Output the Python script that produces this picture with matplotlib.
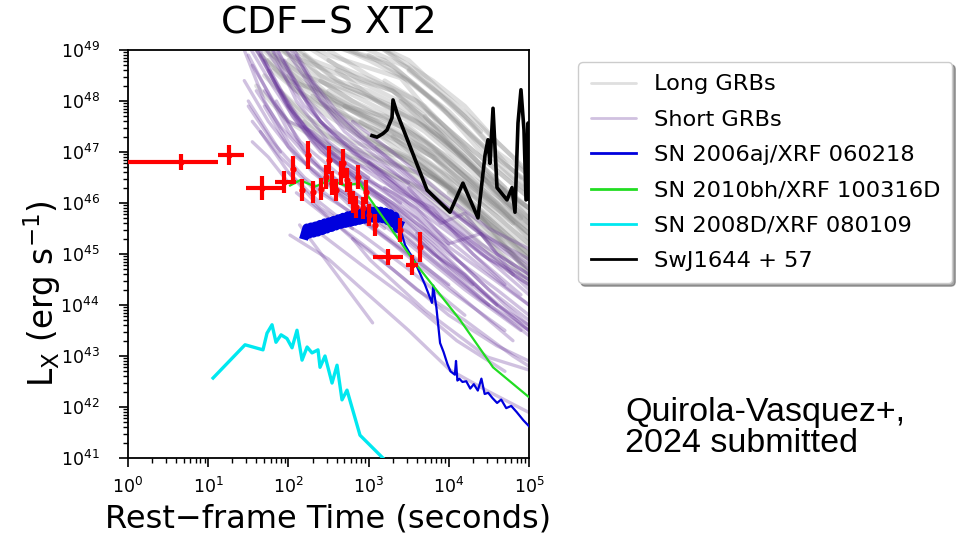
import numpy as np
import matplotlib
matplotlib.use("Agg")
import matplotlib.pyplot as plt

# ---------------- data (log10 time [s], log10 L_X [erg/s]) ----------------
long_grb_curves = [
    [(2.6, 49.3), (3.0, 49.0), (3.5, 48.65), (4.2, 47.7), (4.6, 47.0), (5.0, 46.55)],
    [(2.3, 49.3), (3.0, 48.8), (3.5, 48.4), (4.0, 47.8), (4.5, 47.0), (5.0, 46.4)],
    [(2.0, 49.3), (2.6, 48.7), (3.2, 48.3), (3.8, 47.7), (4.4, 46.9), (5.0, 46.1)],
    [(1.9, 49.2), (2.4, 48.5), (3.0, 48.1), (3.6, 47.6), (4.3, 46.7), (5.0, 45.9)],
    [(2.1, 49.2), (2.5, 48.9), (3.1, 48.6), (3.4, 48.45), (3.9, 47.5), (4.7, 46.3)],
    [(1.8, 49.2), (2.2, 48.6), (2.8, 48.0), (3.5, 47.5), (4.2, 46.6), (5.0, 45.7)],
    [(1.7, 49.1), (2.3, 48.3), (2.9, 47.8), (3.4, 47.5), (4.1, 46.5), (5.0, 45.5)],
    [(2.4, 49.3), (2.9, 48.9), (3.3, 48.7), (3.8, 48.0), (4.3, 47.3), (4.9, 46.5)],
    [(1.6, 49.0), (2.1, 48.2), (2.7, 47.7), (3.3, 47.3), (4.0, 46.5), (4.8, 45.6)],
    [(2.2, 48.9), (2.7, 48.3), (3.3, 47.9), (3.9, 47.3), (4.5, 46.4), (5.0, 45.9)],
    [(1.55, 49.2), (1.9, 48.7), (2.5, 48.0), (3.1, 47.6), (3.8, 46.9), (4.5, 46.0), (5.0, 45.4)],
    [(2.0, 48.8), (2.6, 48.0), (3.2, 47.5), (3.9, 46.9), (4.6, 46.0), (5.0, 45.5)],
    [(1.8, 48.6), (2.4, 47.8), (3.0, 47.2), (3.6, 46.8), (4.3, 46.0), (5.0, 45.1)],
    [(2.5, 49.0), (3.0, 48.5), (3.6, 48.0), (4.1, 47.3), (4.7, 46.5), (5.0, 46.1)],
    [(1.7, 48.5), (2.2, 47.7), (2.8, 47.2), (3.4, 46.9), (4.0, 46.3), (4.7, 45.3), (5.0, 44.9)],
    [(2.8, 49.3), (3.2, 49.0), (3.6, 48.5), (4.0, 48.0), (4.4, 47.4)],
    [(2.2, 48.5), (2.8, 47.6), (3.3, 47.2), (3.9, 46.6), (4.5, 45.7), (5.0, 45.0)],
    [(1.9, 48.2), (2.5, 47.3), (3.1, 46.9), (3.6, 46.6), (4.2, 45.8), (5.0, 44.7)],
    [(2.0, 47.9), (2.6, 47.0), (3.2, 46.6), (3.8, 46.2), (4.4, 45.4), (5.0, 44.4)],
    [(2.3, 48.1), (2.9, 47.3), (3.5, 46.9), (4.1, 46.2), (4.7, 45.2), (5.0, 44.8)],
    [(2.6, 48.6), (3.1, 48.0), (3.7, 47.5), (4.3, 46.7), (4.8, 45.9), (5.0, 45.6)],
    [(3.0, 48.9), (3.4, 48.5), (3.9, 47.9), (4.4, 47.0), (5.0, 46.2)],
    [(1.6, 48.3), (2.0, 47.6), (2.5, 47.1), (3.0, 46.8), (3.6, 46.3), (4.2, 45.5), (4.8, 44.6)],
    [(2.4, 48.4), (2.9, 47.9), (3.5, 47.4), (4.0, 46.9), (4.6, 46.0), (5.0, 45.3)],
    [(1.75, 48.8), (2.3, 48.0), (2.8, 47.5), (3.3, 47.0), (3.9, 46.4), (4.5, 45.6), (5.0, 45.0)],
    [(2.1, 49.0), (2.6, 48.4), (3.0, 48.2), (3.5, 47.8), (4.1, 47.0), (4.8, 45.9)],
    [(3.2, 48.4), (3.7, 47.9), (4.2, 47.1), (4.7, 46.2), (5.0, 45.7)],
    [(2.7, 47.9), (3.2, 47.4), (3.8, 46.9), (4.4, 46.0), (5.0, 45.2)],
    [(2.9, 47.6), (3.4, 47.0), (4.0, 46.4), (4.6, 45.5), (5.0, 44.9)],
    [(3.3, 47.3), (3.8, 46.6), (4.3, 45.9), (4.8, 45.0), (5.0, 44.6)],
    [(1.65, 48.9), (2.0, 48.4), (2.4, 48.2), (2.8, 47.8), (3.4, 47.3), (4.0, 46.7), (4.6, 45.9), (5.0, 45.3)],
    [(2.5, 48.8), (2.9, 48.4), (3.3, 48.2), (3.7, 47.7), (4.3, 46.8), (5.0, 45.8)],
    [(3.5, 48.6), (3.9, 48.1), (4.3, 47.5), (4.7, 46.8), (5.0, 46.3)],
    [(3.6, 46.8), (4.0, 46.3), (4.5, 45.6), (5.0, 44.9)],
    [(3.1, 47.1), (3.6, 46.5), (4.1, 45.9), (4.6, 45.1), (5.0, 44.5)],
    [(1.9, 49.3), (2.3, 48.8), (2.8, 48.5), (3.3, 48.2), (3.8, 47.5), (4.4, 46.6), (5.0, 45.9)],
    [(1.5, 49.3), (1.8, 48.9), (2.2, 48.5), (2.7, 48.2), (3.2, 47.8), (3.8, 47.1), (4.4, 46.2), (5.0, 45.4)],
    [(1.6, 49.3), (2.0, 48.9), (2.5, 48.6), (3.0, 48.3), (3.5, 47.9), (4.1, 47.2), (4.7, 46.3), (5.0, 45.9)],
    [(2.2, 49.3), (2.7, 49.0), (3.2, 48.8), (3.6, 48.3), (4.1, 47.6), (4.6, 46.8), (5.0, 46.2)],
    [(2.7, 49.3), (3.1, 49.1), (3.5, 48.8), (3.9, 48.2), (4.4, 47.5), (4.8, 46.9), (5.0, 46.5)],
    [(1.8, 48.9), (2.2, 48.3), (2.7, 47.9), (3.2, 47.7), (3.7, 47.2), (4.3, 46.4), (5.0, 45.6)],
    [(2.0, 48.5), (2.5, 47.9), (3.0, 47.5), (3.5, 47.1), (4.1, 46.4), (4.7, 45.6), (5.0, 45.2)],
    [(2.5, 48.2), (3.0, 47.7), (3.5, 47.3), (4.0, 46.8), (4.5, 46.1), (5.0, 45.4)],
    [(3.4, 48.0), (3.8, 47.4), (4.2, 46.9), (4.7, 46.0), (5.0, 45.6)],
    [(3.0, 47.3), (3.5, 46.8), (4.0, 46.3), (4.5, 45.7), (5.0, 45.0)],
    [(3.7, 47.7), (4.1, 47.0), (4.5, 46.4), (5.0, 45.7)],
    [(2.2, 47.6), (2.7, 47.1), (3.2, 46.8), (3.8, 46.5), (4.4, 45.7), (5.0, 44.6)],
    [(4.0, 46.2), (4.4, 45.6), (4.8, 45.0), (5.0, 44.7)],
    [(2.9, 49.3), (3.3, 48.9), (3.8, 48.4), (4.2, 47.9), (4.6, 47.2), (5.0, 46.6)],
    [(1.7, 49.3), (2.1, 48.8), (2.6, 48.3), (3.1, 48.0), (3.7, 47.4), (4.3, 46.6), (4.9, 45.7)],
]

short_grb_curves = [
    [(1.5, 49.1), (1.8, 48.3), (2.1, 47.6), (2.5, 46.9), (3.0, 46.3), (3.6, 45.6), (4.3, 44.8), (5.0, 44.0)],
    [(1.6, 49.3), (1.9, 48.6), (2.2, 47.9), (2.6, 47.3), (3.1, 46.7), (3.7, 45.9), (4.4, 45.0), (5.0, 44.4)],
    [(1.55, 48.7), (1.85, 47.9), (2.15, 47.2), (2.6, 46.6), (3.2, 46.0), (3.9, 45.0), (4.6, 44.0)],
    [(1.7, 49.3), (2.0, 48.5), (2.4, 47.6), (2.8, 47.0), (3.4, 46.4), (4.1, 45.5), (4.8, 44.6), (5.0, 44.4)],
    [(1.45, 48.4), (1.75, 47.6), (2.1, 46.9), (2.6, 46.3), (3.2, 45.7), (3.8, 44.9), (4.5, 44.0)],
    [(1.8, 49.2), (2.1, 48.3), (2.4, 47.6), (2.9, 46.9), (3.5, 46.2), (4.2, 45.3), (5.0, 44.2)],
    [(1.65, 48.9), (1.95, 48.0), (2.3, 47.2), (2.8, 46.5), (3.3, 46.0), (3.9, 45.2), (4.5, 44.3), (5.0, 43.7)],
    [(1.5, 47.9), (1.8, 47.2), (2.2, 46.5), (2.7, 45.9), (3.3, 45.2), (4.0, 44.3), (4.7, 43.5)],
    [(1.9, 49.3), (2.2, 48.6), (2.5, 47.9), (2.9, 47.3), (3.4, 46.7), (4.0, 45.9), (4.7, 45.1), (5.0, 44.8)],
    [(1.6, 48.2), (1.9, 47.5), (2.3, 46.8), (2.9, 46.1), (3.5, 45.4), (4.2, 44.5), (5.0, 43.5)],
    [(1.5, 48.9), (1.7, 48.3), (2.0, 47.4), (2.4, 46.7), (3.0, 46.0), (3.6, 45.3), (4.3, 44.4)],
    [(1.75, 48.6), (2.05, 47.7), (2.4, 47.0), (2.8, 46.6), (3.3, 46.2), (3.9, 45.4), (4.6, 44.5), (5.0, 44.0)],
    [(2.0, 49.2), (2.3, 48.4), (2.6, 47.8), (3.0, 47.2), (3.6, 46.4), (4.3, 45.5), (5.0, 44.7)],
    [(1.55, 47.6), (1.9, 46.9), (2.3, 46.3), (2.8, 45.8), (3.4, 45.1), (4.0, 44.4)],
    [(1.7, 47.9), (2.0, 47.1), (2.4, 46.5), (2.9, 45.9), (3.5, 45.2), (4.2, 44.3), (4.9, 43.5)],
    [(2.1, 48.9), (2.4, 48.0), (2.7, 47.4), (3.1, 46.9), (3.7, 46.1), (4.4, 45.2), (5.0, 44.6)],
    [(1.85, 48.0), (2.2, 47.0), (2.6, 46.3), (3.1, 45.8), (3.7, 45.0), (4.4, 44.1), (5.0, 43.5)],
    [(2.0, 46.6), (2.4, 45.9), (2.9, 45.4), (3.5, 44.7), (4.2, 43.8)],
    [(2.02, 45.37), (2.5, 44.9), (2.89, 44.35), (3.5, 43.5), (4.01, 42.73), (4.5, 42.3), (4.99, 41.9)],
    [(2.14, 45.57), (2.6, 44.6), (3.05, 43.65)],
    [(2.8, 45.3), (3.02, 44.88), (3.7, 43.9), (4.48, 42.98), (4.99, 42.73)],
    [(2.3, 46.0), (2.8, 45.3), (3.3, 44.7), (4.0, 43.8), (4.6, 43.2), (5.0, 42.9)],
    [(2.5, 47.0), (2.9, 46.4), (3.4, 45.8), (4.0, 45.0), (4.6, 44.3), (5.0, 43.8)],
    [(2.7, 46.6), (3.2, 46.0), (3.8, 45.2), (4.4, 44.3), (5.0, 43.5)],
    [(2.6, 46.2), (3.0, 45.6), (3.6, 44.9), (4.2, 44.1), (4.8, 43.3)],
    [(3.0, 46.8), (3.5, 46.1), (4.0, 45.5), (4.5, 44.9), (5.0, 44.5)],
    [(3.2, 46.3), (3.6, 45.9), (4.0, 45.2), (4.4, 45.4), (4.8, 44.6), (5.0, 44.3)],
    [(2.4, 45.4), (2.9, 44.8), (3.5, 44.1), (4.1, 43.3), (4.7, 42.7)],
    [(3.3, 45.8), (3.8, 45.0), (4.2, 44.6), (4.6, 44.0), (5.0, 43.6)],
    [(1.8, 49.0), (2.1, 48.0), (2.5, 47.2), (3.0, 46.6), (3.4, 46.2), (3.8, 45.9), (4.3, 45.0), (4.9, 44.2)],
    [(1.45, 49.0), (1.7, 48.0), (2.0, 47.2), (2.3, 46.6), (2.7, 46.1), (3.2, 45.5)],
    [(1.5, 48.0), (1.7, 47.5), (1.9, 47.0)],
    [(1.55, 47.2), (1.75, 46.9), (2.0, 46.4)],
    [(3.5, 46.3), (3.9, 45.6), (4.2, 45.8), (4.6, 45.0), (5.0, 44.6)],
    [(2.2, 47.5), (2.6, 46.8), (3.1, 46.2), (3.6, 45.7), (4.1, 44.9), (4.7, 44.0), (5.0, 43.6)],
    [(1.95, 48.8), (2.25, 47.9), (2.55, 47.3), (2.95, 46.8), (3.5, 46.0), (4.1, 45.3), (4.7, 44.4)],
    [(3.6, 45.4), (4.0, 44.7), (4.5, 44.0), (5.0, 43.4)],
    [(1.65, 47.4), (2.0, 46.6), (2.4, 46.0), (2.8, 45.5)],
    [(2.1, 46.2), (2.5, 45.7), (3.0, 45.1), (3.6, 44.3), (4.2, 43.7), (4.8, 43.0), (5.0, 42.8)],
    [(1.7, 48.2), (2.0, 47.6), (2.3, 47.4), (2.7, 46.9), (3.2, 46.5), (3.8, 45.8), (4.5, 45.0), (5.0, 44.5)],
    [(2.8, 47.6), (3.3, 47.0), (3.9, 46.2), (4.5, 45.5), (5.0, 45.1)],
    [(1.5, 49.3), (1.75, 48.6), (2.0, 47.9), (2.3, 47.3), (2.7, 46.8)],
    [(1.6, 49.0), (1.85, 48.3), (2.1, 47.7), (2.45, 47.1), (2.9, 46.6), (3.4, 46.0)],
    [(1.7, 48.8), (1.95, 48.1), (2.2, 47.5), (2.6, 46.9), (3.0, 46.5)],
    [(1.55, 49.3), (1.8, 48.5), (2.05, 47.8), (2.35, 47.2), (2.75, 46.7), (3.3, 46.1), (4.0, 45.2)],
    [(1.75, 49.3), (2.0, 48.6), (2.25, 48.0), (2.6, 47.4), (3.0, 46.9), (3.5, 46.4)],
    [(1.85, 49.3), (2.1, 48.7), (2.35, 48.1), (2.7, 47.5), (3.1, 47.0), (3.7, 46.2), (4.4, 45.4), (5.0, 44.9)],
]

# SN 2006aj / XRF 060218: dense early hump (time [s], log10 L) + tail (time [s], L)
sn2006aj_hump_t = [160, 170, 180, 192, 205, 218, 232, 248, 265, 283, 302, 322, 345, 368, 393, 420, 450, 480, 515,
                   550, 590, 630, 675, 720, 770, 825, 880, 940, 1000, 1070, 1150, 1230, 1320, 1410, 1510, 1620,
                   1740, 1860, 1990, 2130, 2280, 2400]
sn2006aj_hump_logL = [45.37, 45.51, 45.39, 45.53, 45.41, 45.55, 45.43, 45.58, 45.46, 45.61, 45.49, 45.63, 45.52,
                      45.66, 45.55, 45.69, 45.58, 45.72, 45.60, 45.75, 45.62, 45.77, 45.64, 45.79, 45.66, 45.81,
                      45.68, 45.83, 45.69, 45.84, 45.70, 45.85, 45.70, 45.84, 45.69, 45.82, 45.65, 45.79, 45.61,
                      45.74, 45.50, 45.58]
sn2006aj_t = [2400, 2845, 3790, 5050, 6170, 6400, 6700, 7000, 7780, 8600, 9600, 10500, 11900, 12300, 12800, 13500,
              14800, 16500, 18500, 20500, 23000, 25500, 28000, 31000, 35000, 40000, 45000, 52000, 60000, 70000, 85000, 100000]
sn2006aj_L = [3.8e45, 1.5e45, 6.9e44, 2.5e44, 1.1e44, 2.4e44, 1.4e44, 9.0e43, 1.8e43, 1.2e43, 7.0e42, 5.0e42, 4.3e42,
              8.0e42, 3.3e42, 3.6e42, 3.1e42, 3.2e42, 2.3e42, 2.8e42, 2.1e42, 3.6e42, 1.8e42, 1.9e42, 1.5e42, 1.2e42,
              1.4e42, 0.95e42, 1.05e42, 0.8e42, 0.55e42, 0.42e42]

# SN 2010bh / XRF 100316D
sn2010bh_t = [105, 140, 215, 330, 508, 781, 955, 4010, 13800, 35600, 98000]
sn2010bh_L = [2.2e46, 2.8e46, 2.1e46, 2.8e46, 2.2e46, 2.45e46, 1.45e46, 6.0e44, 5.1e43, 6.0e42, 1.6e42]

# SN 2008D / XRF 080109
sn2008d_t = [11.5, 28.8, 48.2, 54.1, 62.5, 70, 81, 96, 111, 128, 148, 171, 197, 234, 248, 286, 350, 404, 466, 538, 781, 1600]
sn2008d_L = [3.7e42, 1.66e43, 1.32e43, 2.8e43, 4.1e43, 1.86e43, 2.6e43, 2.2e43, 1.45e43, 3.2e43, 8.3e42, 1.5e43,
             1.15e43, 1.32e43, 6.0e42, 1.0e43, 2.95e42, 6.6e42, 1.38e42, 2.14e42, 2.8e41, 0.91e41]

# Sw J1644+57
swj1644_t = [1103, 1273, 1513, 1696, 1958, 2015, 2260, 5350, 10350, 15000, 23100, 28300, 30800, 32600, 35600, 39900,
             53200, 61400, 66900, 72900, 79400, 86600, 91800, 97200, 100000]
swj1644_L = [2.1e47, 1.95e47, 2.3e47, 2.7e47, 4.7e47, 1.05e48, 5.8e47, 1.8e46, 6.6e45, 2.45e46, 5.1e45, 8.7e46,
             1.74e47, 6.0e46, 7.2e47, 2.0e46, 1.15e46, 2.0e46, 6.6e45, 3.7e47, 1.66e48, 2.7e47, 1.15e46, 3.7e47, 1.2e46]

# CDF-S XT2 X-ray light curve
xt2_t = [4.6, 18.2, 47, 88, 114, 148, 176, 203, 255, 294, 321, 350, 393, 453, 480, 538, 586, 640, 697, 738,
         851, 929, 1012, 1202, 1740, 2460, 3480, 4380]
xt2_logL = [46.80, 46.94, 46.29, 46.41, 46.67, 46.25, 46.94, 46.22, 46.27, 46.51, 46.84, 46.39, 46.25, 46.59, 46.78,
            46.45, 46.20, 46.02, 45.92, 46.51, 45.90, 46.22, 45.76, 45.57, 44.94, 45.47, 44.78, 45.14]
xt2_t_lo = [0.8, 13.3, 29.6, 68, 108, 138, 168, 193, 243, 281, 307, 335, 376, 434, 460, 516, 562, 614, 670, 708,
            818, 893, 972, 1150, 1150, 2360, 2900, 4200]
xt2_t_hi = [13.3, 28, 83, 124, 120, 158, 185, 213, 268, 308, 336, 366, 411, 473, 502, 562, 612, 668, 726, 770,
            886, 967, 1055, 1256, 2700, 2570, 4100, 4560]
xt2_dlogL = [0.16, 0.2, 0.24, 0.22, 0.25, 0.22, 0.28, 0.22, 0.22, 0.24, 0.28, 0.24, 0.22, 0.24, 0.28, 0.24, 0.22,
             0.22, 0.22, 0.24, 0.22, 0.24, 0.22, 0.22, 0.15, 0.24, 0.2, 0.3]

labels = ["Long GRBs", "Short GRBs", "SN 2006aj/XRF 060218", "SN 2010bh/XRF 100316D",
          "SN 2008D/XRF 080109", "SwJ1644 + 57"]

# ---------------- figure ----------------
fig = plt.figure(figsize=(9.75, 5.4), dpi=100)
ax = fig.add_axes([128 / 975, 82 / 540, 401 / 975, 408 / 540])

h = {}
for i, c in enumerate(long_grb_curves):
    lt, ll = zip(*c)
    ln, = ax.plot(10 ** np.array(lt), 10 ** np.array(ll), color="gray", alpha=0.25, lw=3.2,
                  solid_capstyle="round", zorder=1)
    if i == 0:
        h[0] = ln
for i, c in enumerate(short_grb_curves):
    lt, ll = zip(*c)
    ln, = ax.plot(10 ** np.array(lt), 10 ** np.array(ll), color="rebeccapurple", alpha=0.3, lw=2.4,
                  solid_capstyle="round", zorder=2)
    if i == 0:
        h[1] = ln

ax.plot(sn2006aj_hump_t, 10 ** np.array(sn2006aj_hump_logL), color="#0000dd", lw=6.5, zorder=3)
h[2], = ax.plot(sn2006aj_t, sn2006aj_L, color="#0000dd", lw=1.6, zorder=3)
h[3], = ax.plot(sn2010bh_t, sn2010bh_L, color="#22dd22", lw=1.6, zorder=4)
h[4], = ax.plot(sn2008d_t, sn2008d_L, color="#00e8f0", lw=2.4, zorder=3)
h[5], = ax.plot(swj1644_t, swj1644_L, color="black", lw=2.6, zorder=4)

xt2_t_a = np.array(xt2_t)
xt2_L_a = 10 ** np.array(xt2_logL)
yerr = [xt2_L_a - 10 ** (np.array(xt2_logL) - np.array(xt2_dlogL)),
        10 ** (np.array(xt2_logL) + np.array(xt2_dlogL)) - xt2_L_a]
xerr = [xt2_t_a - np.array(xt2_t_lo), np.array(xt2_t_hi) - xt2_t_a]
ax.errorbar(xt2_t_a, xt2_L_a, xerr=xerr, yerr=yerr, fmt="o", color="red", ms=3.5, ecolor="red",
            elinewidth=3.0, capsize=0, zorder=6)

ax.set_xscale("log")
ax.set_yscale("log")
ax.set_xlim(1, 1e5)
ax.set_ylim(1e41, 1e49)
ax.tick_params(axis="x", which="major", pad=7)
ax.tick_params(axis="y", which="major", pad=14)
ax.tick_params(which="major", direction="out", length=6.5, width=1.2, labelsize=12.5, top=False, right=False)
ax.tick_params(which="minor", direction="out", length=3.5, width=1.0, top=False, right=False)
ax.yaxis.set_major_locator(matplotlib.ticker.LogLocator(base=10, numticks=20))
ax.yaxis.set_minor_locator(matplotlib.ticker.LogLocator(base=10, subs=np.arange(2, 10), numticks=20))
for s in ax.spines.values():
    s.set_linewidth(1.3)

ax.set_title("CDF\u2212S XT2", fontsize=27, pad=12)
ax.set_xlabel("Rest\u2212frame Time (seconds)", fontsize=23, labelpad=5)
ax.set_ylabel(r"L$_{\rm X}$ (erg s$^{-1}$)", fontsize=23.5)
ax.yaxis.set_label_coords(-0.162, 0.404)

leg = fig.legend([h[k] for k in range(6)], labels, loc="upper left", bbox_to_anchor=(0.593, 0.885),
                 borderaxespad=0, fontsize=16.2, frameon=True, fancybox=True, shadow=True, handlelength=2.0,
                 labelspacing=0.68, borderpad=0.55)
for lh in leg.get_lines():
    lh.set_linewidth(2.0)
leg.get_frame().set_edgecolor("#cccccc")

fig.text(625 / 975, 1 - 428 / 540, "Quirola-Vasquez+,\n2024 submitted", fontsize=24.5,
         family="Liberation Sans", ha="left", va="center", linespacing=1.03)

fig.savefig("out.png", dpi=100)
